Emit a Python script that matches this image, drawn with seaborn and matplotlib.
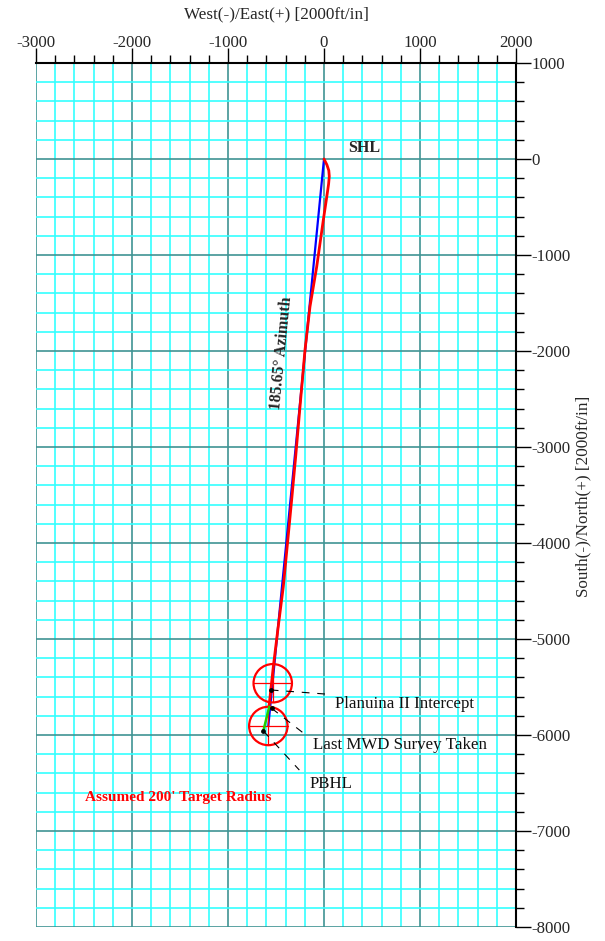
import numpy as np
import pandas as pd
import matplotlib
matplotlib.use("Agg")
import matplotlib.pyplot as plt
from matplotlib.patches import Circle
from matplotlib.ticker import MultipleLocator
import seaborn as sns

# ---- data (feet) ----
actual_x = [0, 30, 50, 55, 48, 25, -7, -76, -146, -198, -250, -295, -337, -380, -424, -478, -528, -573]
actual_y = [0, -60, -120, -180, -260, -420, -635, -1122, -1538, -1990, -2580, -3100, -3552, -4000, -4455, -4880, -5288, -5705]
plan_x = [0, -580]
plan_y = [0, -5906]
proj_x = [-570, -632]
proj_y = [-5705, -5958]

target_x = [-534, -580]
target_y = [-5461, -5906]
target_r = 200

point_x = [-555, -545, -632]
point_y = [-5531, -5722, -5958]
label_x = [10, -198, -257]
label_y = [-5573, -5993, -6365]
label_txt = ["Planuina II Intercept", "Last MWD Survey Taken", "PBHL"]
text_x = [115, -115, -146]
text_y = [-5677, -6104, -6510]

xticks = [-3000, -2000, -1000, 0, 1000, 2000]
yticks = [1000, 0, -1000, -2000, -3000, -4000, -5000, -6000, -7000, -8000]

sns.set_style("white")
plt.rcParams["font.family"] = ["Liberation Serif", "DejaVu Serif"]
plt.rcParams["axes.unicode_minus"] = False

fig = plt.figure(figsize=(6.05, 9.41), dpi=100)
ax = fig.add_axes([36 / 605, 14 / 941, 480 / 605, 864 / 941])

# grid
for v in np.arange(-3000, 2001, 200):
    major = v % 1000 == 0
    ax.axvline(v, color="#3f9494" if major else "#33ffff", lw=1.2, zorder=0)
for v in np.arange(-8000, 1001, 200):
    major = v % 1000 == 0
    ax.axhline(v, color="#3f9494" if major else "#33ffff", lw=1.2, zorder=0)

act = pd.DataFrame({"x": actual_x, "y": actual_y})
pln = pd.DataFrame({"x": plan_x, "y": plan_y})
prj = pd.DataFrame({"x": proj_x, "y": proj_y})
sns.lineplot(data=pln, x="x", y="y", sort=False, color="#0000ff", lw=1.6, ax=ax, zorder=3)
sns.lineplot(data=act, x="x", y="y", sort=False, color="#ff0000", lw=2.0, ax=ax, zorder=4)
sns.lineplot(data=prj, x="x", y="y", sort=False, color="#22cc00", lw=1.8, ax=ax, zorder=4)

for cx, cy in zip(target_x, target_y):
    ax.add_patch(Circle((cx, cy), target_r, fill=False, ec="#ff0000", lw=1.6, zorder=3))
    ax.plot([cx - target_r, cx + target_r], [cy, cy], color="#ff0000", lw=0.9, zorder=3)
    ax.plot([cx, cx], [cy - target_r, cy + target_r], color="#ff0000", lw=0.9, zorder=3)

for px, py, lx, ly, t, tx, ty in zip(point_x, point_y, label_x, label_y, label_txt, text_x, text_y):
    ax.plot([px, lx], [py, ly], color="black", lw=0.8, ls=(0, (7, 7)), zorder=5)
    ax.text(tx, ty, t, fontsize=12.2, ha="left", va="center", color="#111111")
ax.scatter(point_x, point_y, s=6, color="black", zorder=6)

ax.text(250, 115, "SHL", fontsize=11.5, fontweight="bold", ha="left", va="center")
ax.text(-441, -2024, "185.65° Azimuth", fontsize=11.5, fontweight="bold",
        rotation=84.35, ha="center", va="center", rotation_mode="anchor")
ax.text(-1521, -6646, "Assumed 200' Target Radius", fontsize=11, fontweight="bold",
        color="#ff0000", ha="center", va="center")

ax.set_xlim(-3000, 2000)
ax.set_ylim(-8000, 1000)
ax.set_xlabel("")
ax.set_ylabel("")

ax.xaxis.tick_top()
ax.yaxis.tick_right()
ax.set_xticks(xticks)
ax.set_xticklabels([str(v) for v in xticks])
ax.set_yticks(yticks)
ax.set_yticklabels([str(v) for v in yticks])
ax.xaxis.set_minor_locator(MultipleLocator(200))
ax.yaxis.set_minor_locator(MultipleLocator(200))
ax.tick_params(which="major", length=11, width=1.0, color="black", labelsize=12.2)
ax.tick_params(axis="x", which="major", pad=-2.5)
ax.tick_params(axis="y", which="major", pad=0)
ax.tick_params(which="minor", length=6, width=1.0, color="black")
ax.tick_params(axis="x", which="both", top=True, bottom=False)
ax.tick_params(axis="y", which="both", right=True, left=False)

for side in ["left", "bottom"]:
    ax.spines[side].set_visible(False)
for side in ["top", "right"]:
    ax.spines[side].set_visible(True)
    ax.spines[side].set_color("black")
    ax.spines[side].set_linewidth(1.5)
    ax.spines[side].set_zorder(7)

fig.text(276 / 605, 1 - 14 / 941, "West(-)/East(+) [2000ft/in]", fontsize=12.3,
         ha="center", va="center")
fig.text(583 / 605, 1 - 496 / 941, "South(-)/North(+) [2000ft/in]", fontsize=12.3,
         ha="center", va="center", rotation=90)

fig.savefig("out.png", dpi=100)
